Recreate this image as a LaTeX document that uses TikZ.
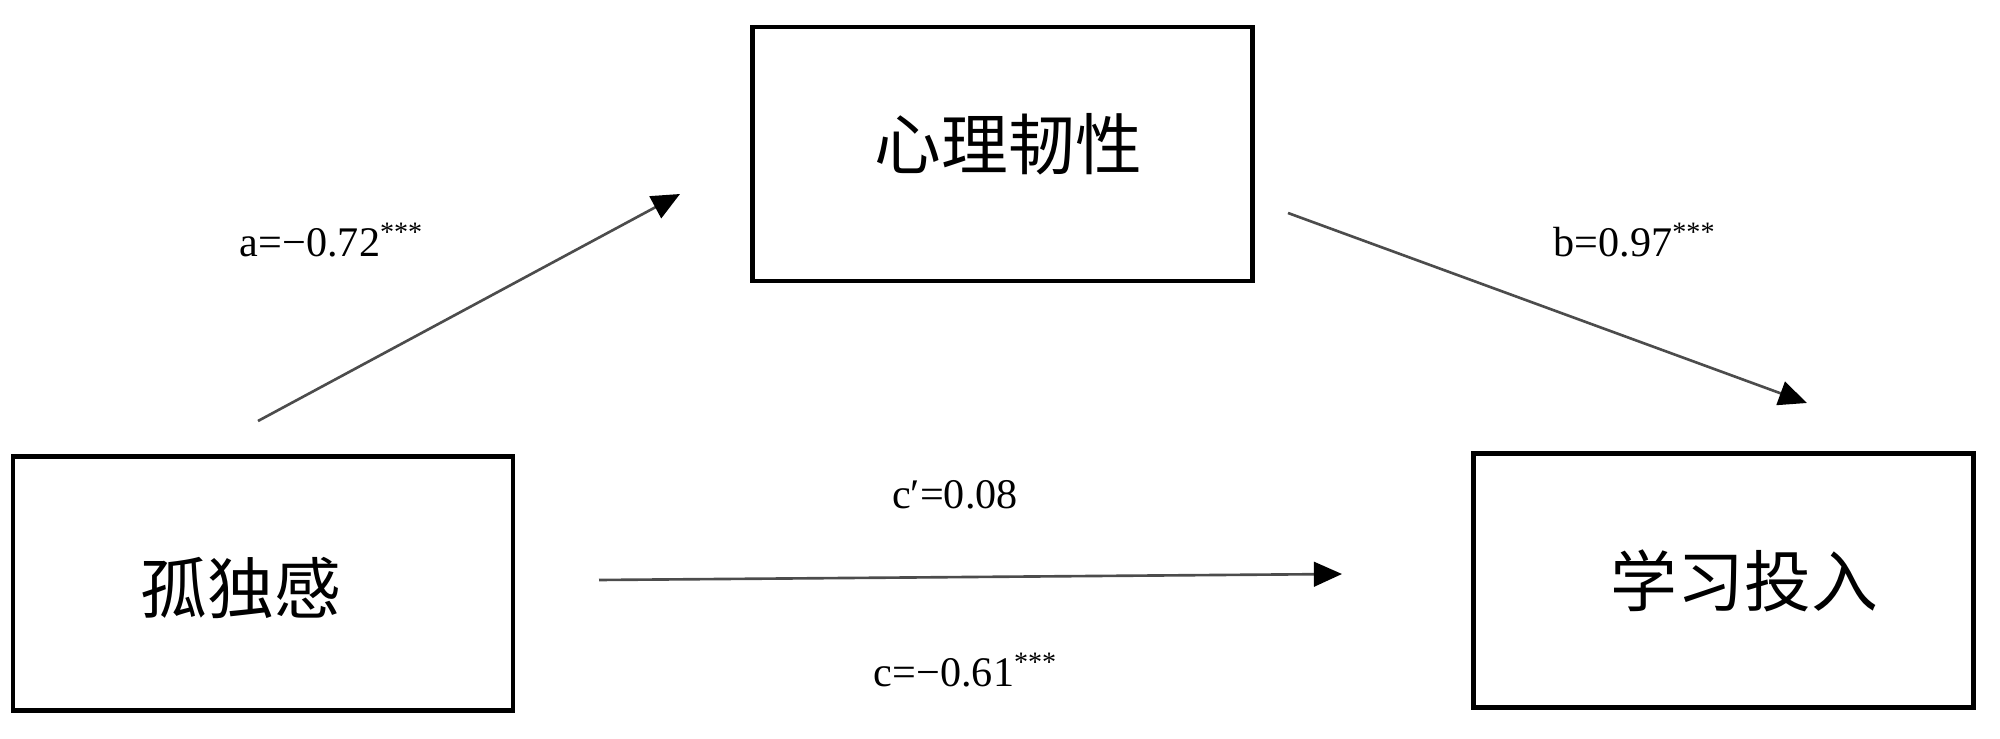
\documentclass[tikz,border=0pt]{standalone}
\usepackage{fontspec}
\setmainfont{Liberation Serif}
\newfontfamily\cjk{Noto Sans CJK SC}
\usetikzlibrary{arrows.meta}
\tikzset{
    varbox/.style={draw, line width=1.3pt, minimum width=5cm, minimum height=2.54cm},
    vartext/.style={font=\cjk\fontsize{19}{21}\selectfont},
    coef/.style={font=\fontsize{12}{14}\selectfont},
}
\begin{document}
\begin{tikzpicture}[>={Triangle[length=8pt, width=7pt, color=black]}]
        \useasboundingbox (0,0) rectangle (20,7.39);
        
        % Variabili
        \node[varbox] (solit) at (2.63,1.555) {};
        \node[varbox] (resil) at (10.025,5.85) {};
        \node[varbox] (impeg) at (17.235,1.585) {};
        \node[vartext] (tsolit) at ([shift={(-0.22,-0.05)}]solit.center) {孤独感};
        \node[vartext] (tresil) at ([shift={(0.06,0.1)}]resil.center) {心理韧性};
        \node[vartext] (timpeg) at ([shift={(0.21,0)}]impeg.center) {学习投入};
        
        % Estremi delle frecce
        \coordinate (aS) at (2.58,3.18);
        \coordinate (aE) at (6.80,5.45);
        \coordinate (bS) at (12.88,5.26);
        \coordinate (bE) at (18.07,3.36);
        \coordinate (cS) at (5.99,1.59);
        \coordinate (cE) at (13.42,1.65);
        
        % Frecce
        \draw[->, line width=0.75pt, black!70] (aS) -- (aE);
        \draw[->, line width=0.75pt, black!70] (bS) -- (bE);
        \draw[->, line width=0.75pt, black!70] (cS) -- (cE);
        
        % Coefficienti
        \node[coef] (la) at (3.32,4.99) {a=−0.72\textsuperscript{***}};
        \node[coef] (lb) at (16.35,4.99) {b=0.97\textsuperscript{***}};
        \node[coef] (lcp) at (9.55,2.44) {c′=0.08};
        \node[coef] (lc) at (9.66,0.69) {c=−0.61\textsuperscript{***}};
    \end{tikzpicture}
\end{document}
